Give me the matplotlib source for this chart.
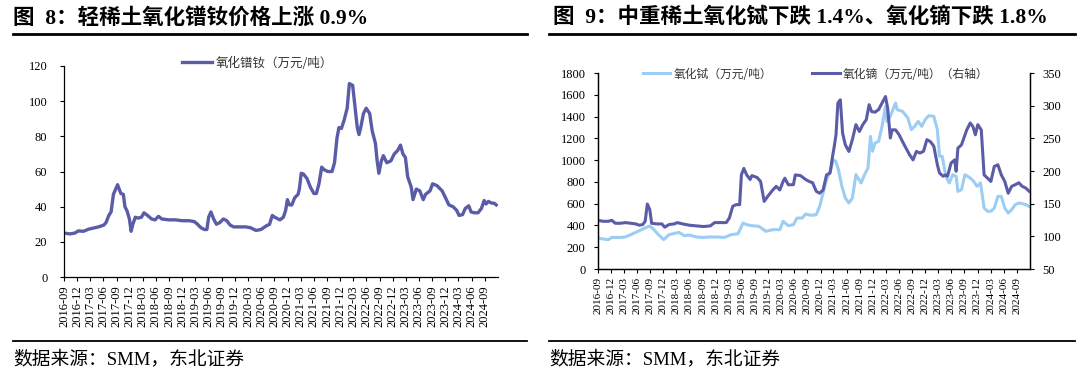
import matplotlib
matplotlib.use("Agg")
import matplotlib.pyplot as plt
import pandas as pd
from matplotlib.lines import Line2D

# ---------------- data ----------------
x_tick_labels = ["2016-09", "2016-12", "2017-03", "2017-06", "2017-09", "2017-12",
                 "2018-03", "2018-06", "2018-09", "2018-12", "2019-03", "2019-06",
                 "2019-09", "2019-12", "2020-03", "2020-06", "2020-09", "2020-12",
                 "2021-03", "2021-06", "2021-09", "2021-12", "2022-03", "2022-06",
                 "2022-09", "2022-12", "2023-03", "2023-06", "2023-09", "2023-12",
                 "2024-03", "2024-06", "2024-09"]

prnd_dates = ["2016-09-01", "2016-10-11", "2016-11-16", "2016-12-09", "2017-01-14", "2017-02-19",
              "2017-03-24", "2017-04-29", "2017-06-04", "2017-06-20", "2017-07-09", "2017-07-25",
              "2017-08-10", "2017-08-26", "2017-09-08", "2017-09-19", "2017-10-01", "2017-10-18",
              "2017-10-29", "2017-11-13", "2017-11-29", "2017-12-11", "2017-12-23", "2018-01-09",
              "2018-01-28", "2018-02-21", "2018-03-10", "2018-04-04", "2018-05-02", "2018-05-26",
              "2018-06-19", "2018-07-12", "2018-08-29", "2018-10-16", "2018-12-02", "2019-01-19",
              "2019-02-23", "2019-03-17", "2019-04-10", "2019-05-04", "2019-05-21", "2019-06-02",
              "2019-06-18", "2019-07-07", "2019-07-26", "2019-08-19", "2019-09-12", "2019-10-06",
              "2019-10-30", "2019-11-23", "2020-01-10", "2020-02-15", "2020-03-20", "2020-04-25",
              "2020-05-30", "2020-07-05", "2020-07-29", "2020-08-17", "2020-09-03", "2020-10-09",
              "2020-11-02", "2020-11-18", "2020-11-30", "2020-12-14", "2020-12-31", "2021-01-19",
              "2021-02-12", "2021-02-21", "2021-03-06", "2021-03-22", "2021-04-15", "2021-05-09",
              "2021-06-02", "2021-06-19", "2021-07-07", "2021-07-26", "2021-08-12", "2021-09-06",
              "2021-10-06", "2021-10-23", "2021-11-09", "2021-11-23", "2021-12-10", "2021-12-28",
              "2022-01-19", "2022-02-03", "2022-02-26", "2022-03-13", "2022-03-30", "2022-04-11",
              "2022-04-23", "2022-05-12", "2022-05-31", "2022-06-24", "2022-07-12", "2022-08-03",
              "2022-08-15", "2022-08-27", "2022-09-13", "2022-09-27", "2022-10-21", "2022-11-18",
              "2022-12-12", "2023-01-05", "2023-01-24", "2023-02-10", "2023-02-27", "2023-03-15",
              "2023-04-09", "2023-04-21", "2023-05-14", "2023-06-07", "2023-07-01", "2023-07-17",
              "2023-08-17", "2023-09-04", "2023-10-04", "2023-11-09", "2023-12-03", "2023-12-26",
              "2024-01-24", "2024-02-17", "2024-03-06", "2024-03-30", "2024-04-18", "2024-05-12",
              "2024-05-28", "2024-06-21", "2024-07-15", "2024-08-08", "2024-08-27", "2024-09-09",
              "2024-09-25", "2024-10-18", "2024-11-04", "2024-11-19"]
prnd_values = [25, 24.5, 25, 26.2, 26, 27.2,
               27.8, 28.5, 29.5, 31, 35, 37,
               47, 50, 52.5, 50, 47.5, 47,
               40, 37.5, 33, 26, 30, 34,
               33.5, 34, 36.5, 35, 33, 32.5,
               34.5, 33, 32.5, 32.5, 32, 32,
               31.5, 30, 28, 27, 27, 34,
               37, 33, 30, 31, 33, 32,
               29.5, 28.5, 28.5, 28.5, 28, 26.5,
               27, 29, 30, 35, 34, 32.5,
               34, 38, 44, 41, 41, 45,
               47, 50, 59, 58.5, 56, 51,
               47.5, 47.5, 53, 62.5, 61, 60,
               60, 65, 79, 85, 84.5, 89,
               96, 110, 109, 98, 85, 81,
               85, 93, 96, 93, 83, 76,
               66, 59, 66, 69, 65, 66,
               70, 72, 75, 70, 68, 57,
               51, 44, 50, 49, 44, 47,
               49, 53, 52, 49, 45, 41,
               40, 38, 35, 35.5, 39, 40.5,
               37, 36.5, 36.5, 39, 43.5, 41.5,
               43, 42, 42, 41]

tb_dates = ["2016-09-01", "2016-10-07", "2016-11-12", "2016-12-06", "2017-02-05", "2017-03-11",
            "2017-04-17", "2017-06-05", "2017-07-22", "2017-08-28", "2017-09-22", "2017-10-28",
            "2017-12-03", "2018-01-09", "2018-02-26", "2018-03-20", "2018-04-26", "2018-06-01",
            "2018-07-19", "2018-09-07", "2018-10-25", "2018-12-12", "2019-01-30", "2019-03-18",
            "2019-05-05", "2019-06-10", "2019-07-05", "2019-08-10", "2019-09-28", "2019-11-16",
            "2020-01-03", "2020-02-21", "2020-03-15", "2020-04-20", "2020-05-26", "2020-06-20",
            "2020-07-26", "2020-08-19", "2020-09-25", "2020-11-01", "2020-11-25", "2020-12-19",
            "2021-01-12", "2021-02-06", "2021-03-01", "2021-03-17", "2021-04-05", "2021-04-29",
            "2021-05-23", "2021-06-17", "2021-07-11", "2021-08-05", "2021-09-10", "2021-10-04",
            "2021-10-28", "2021-11-14", "2021-11-29", "2021-12-16", "2022-01-10", "2022-02-03",
            "2022-02-27", "2022-03-09", "2022-04-02", "2022-05-08", "2022-05-20", "2022-06-26",
            "2022-08-02", "2022-08-26", "2022-09-19", "2022-10-13", "2022-11-07", "2022-12-01",
            "2022-12-25", "2023-01-30", "2023-02-24", "2023-03-11", "2023-03-30", "2023-04-24",
            "2023-05-18", "2023-06-11", "2023-07-05", "2023-07-17", "2023-08-11", "2023-09-04",
            "2023-10-11", "2023-11-04", "2023-11-28", "2023-12-22", "2024-01-16", "2024-02-09",
            "2024-03-03", "2024-03-27", "2024-04-21", "2024-05-15", "2024-06-08", "2024-07-02",
            "2024-07-26", "2024-08-20", "2024-09-14", "2024-10-08", "2024-11-01", "2024-11-25"]
tb_values = [285, 275, 270, 290, 290, 294,
             315, 345, 375, 395, 367, 315,
             270, 315, 330, 336, 306, 312,
             294, 290, 294, 294, 290, 315,
             324, 422, 407, 398, 392, 346,
             361, 361, 438, 398, 407, 468,
             468, 505, 493, 499, 575, 698,
             820, 897, 1004, 989, 912, 759,
             652, 606, 652, 866, 790, 866,
             927, 1218, 1081, 1157, 1172, 1310,
             1494, 1356, 1402, 1524, 1463, 1448,
             1387, 1280, 1310, 1356, 1310, 1371,
             1408, 1402, 1280, 1035, 1035, 851,
             790, 866, 851, 713, 728, 866,
             836, 805, 759, 790, 560, 530,
             530, 560, 667, 667, 560, 514,
             545, 591, 606, 600, 591, 575]

dy_dates = ["2016-09-01", "2016-10-07", "2016-11-12", "2016-12-06", "2016-12-31", "2017-02-05",
            "2017-03-11", "2017-04-17", "2017-05-23", "2017-06-16", "2017-07-10", "2017-07-27",
            "2017-08-11", "2017-08-28", "2017-09-10", "2017-10-16", "2017-11-21", "2017-12-10",
            "2018-01-09", "2018-02-14", "2018-03-08", "2018-04-14", "2018-06-01", "2018-07-19",
            "2018-09-07", "2018-10-25", "2018-11-23", "2018-12-24", "2019-02-12", "2019-03-06",
            "2019-03-30", "2019-04-23", "2019-05-17", "2019-05-29", "2019-06-15", "2019-07-05",
            "2019-07-29", "2019-08-10", "2019-09-16", "2019-10-10", "2019-11-04", "2019-11-28",
            "2020-01-03", "2020-01-27", "2020-02-21", "2020-03-15", "2020-03-27", "2020-04-20",
            "2020-05-26", "2020-06-08", "2020-07-14", "2020-08-19", "2020-09-13", "2020-10-07",
            "2020-11-01", "2020-11-25", "2020-12-19", "2021-01-12", "2021-02-06", "2021-02-23",
            "2021-03-07", "2021-03-19", "2021-04-01", "2021-04-18", "2021-05-04", "2021-05-23",
            "2021-06-17", "2021-07-11", "2021-08-05", "2021-08-29", "2021-09-22", "2021-10-16",
            "2021-11-05", "2021-11-22", "2021-12-16", "2022-01-10", "2022-02-03", "2022-02-27",
            "2022-03-14", "2022-04-02", "2022-04-14", "2022-05-08", "2022-06-02", "2022-06-26",
            "2022-07-20", "2022-08-14", "2022-09-07", "2022-10-01", "2022-10-25", "2022-11-19",
            "2022-12-13", "2023-01-06", "2023-01-30", "2023-02-24", "2023-03-11", "2023-04-05",
            "2023-04-24", "2023-05-06", "2023-05-30", "2023-06-24", "2023-07-05", "2023-07-17",
            "2023-08-11", "2023-09-17", "2023-10-11", "2023-10-30", "2023-11-16", "2023-12-03",
            "2023-12-27", "2024-01-16", "2024-02-09", "2024-03-03", "2024-03-27", "2024-04-21",
            "2024-05-15", "2024-06-08", "2024-07-02", "2024-07-26", "2024-08-20", "2024-09-14",
            "2024-10-08", "2024-11-01", "2024-11-25"]
dy_values = [124.5, 123, 123, 124.5, 120, 120,
             121, 120, 119, 117, 118, 123,
             149.5, 141, 120, 119, 119, 114,
             118, 119, 121, 119, 117, 116,
             115, 116, 121, 121, 121, 128,
             146, 148.5, 148.5, 194, 204, 194,
             187, 193, 190, 184, 153.5, 161,
             171, 176.5, 171, 184, 189, 179,
             179, 194, 193, 187, 184, 182,
             169, 166, 171, 194, 197, 222.5,
             238, 255.5, 304, 309, 258, 240,
             230, 248, 271, 260.5, 271, 278.5,
             301.5, 291, 290, 294, 304, 314,
             296.5, 250.5, 263, 263, 255.5, 245,
             235, 225, 217, 230, 227.5, 230,
             248, 245, 238, 209.5, 197, 192,
             194, 192, 212, 217, 199.5, 235,
             240, 263, 273.5, 268, 255.5, 271,
             263, 194, 189, 184, 207, 209.5,
             194, 184, 166, 176.5, 179, 182,
             176.5, 174, 169]

left_title = "图  8：轻稀土氧化镨钕价格上涨 0.9%"
right_title = "图  9：中重稀土氧化铽下跌 1.4%、氧化镝下跌 1.8%"
source_text = "数据来源：SMM，东北证券"
prnd_label = "氧化镨钕（万元/吨）"
tb_label = "氧化铽（万元/吨）"
dy_label = "氧化镝（万元/吨）（右轴）"

# ---------------- style ----------------
DARK = "#5a5ca8"
LIGHT = "#9ccdf2"
SERIF = ["Liberation Serif", "Noto Sans CJK SC"]
CJK = ["Noto Sans CJK SC", "DejaVu Sans"]
plt.rcParams["font.family"] = SERIF

W, H = 1080, 381
fig = plt.figure(figsize=(W / 100, H / 100), dpi=100)


def rect(l, r, t, b):
    return [l / W, 1 - b / H, (r - l) / W, (b - t) / H]


def fx(x):
    return x / W


def fy(y):
    return 1 - y / H


ticks = pd.to_datetime(x_tick_labels)
x0, x1 = pd.Timestamp("2016-09-01"), pd.Timestamp("2024-12-01")

# ---------------- left chart ----------------
ax1 = fig.add_axes(rect(64, 498, 66, 277))
ax1.plot(pd.to_datetime(prnd_dates), prnd_values, color=DARK, lw=2.4, solid_joinstyle="round")
ax1.set_xlim(x0, x1)
ax1.set_ylim(0, 120)
ax1.set_yticks(range(0, 121, 20))
ax1.set_xticks(ticks)
ax1.set_xticklabels(x_tick_labels, rotation=90, fontsize=9)
for s in ("top", "right"):
    ax1.spines[s].set_visible(False)
for s in ("left", "bottom"):
    ax1.spines[s].set_linewidth(0.9)
ax1.tick_params(axis="y", direction="out", length=3, width=0.8, pad=9, labelsize=9)
ax1.tick_params(axis="x", direction="out", length=3, width=0.8, pad=3)
ax1.legend([Line2D([], [], color=DARK, lw=2.4)], [prnd_label],
           loc="center left", bbox_to_anchor=(fx(182), fy(63)), bbox_transform=fig.transFigure,
           frameon=False, borderpad=0, borderaxespad=0, handlelength=2.4, handletextpad=0.3,
           prop={"family": CJK, "size": 9}, labelcolor="#333333")

# ---------------- right chart ----------------
ax2 = fig.add_axes(rect(598, 1030, 73, 269))
ax2.plot(pd.to_datetime(tb_dates), tb_values, color=LIGHT, lw=2.2, solid_joinstyle="round")
ax2.set_xlim(x0, x1)
ax2.set_ylim(0, 1800)
ax2.set_yticks(range(0, 1801, 200))
ax2.set_xticks(ticks)
ax2.set_xticklabels(x_tick_labels, rotation=90, fontsize=8)
ax3 = ax2.twinx()
ax3.plot(pd.to_datetime(dy_dates), dy_values, color=DARK, lw=2.2, solid_joinstyle="round")
ax3.set_ylim(50, 350)
ax3.set_yticks(range(50, 351, 50))
for a in (ax2, ax3):
    a.spines["top"].set_visible(False)
    for s in ("left", "bottom", "right"):
        a.spines[s].set_linewidth(0.9)
ax2.tick_params(axis="y", direction="out", length=3, width=0.8, pad=6, labelsize=9)
ax3.tick_params(axis="y", direction="out", length=3, width=0.8, pad=6, labelsize=9)
ax2.tick_params(axis="x", direction="out", length=3, width=0.8, pad=3)
ax3.legend([Line2D([], [], color=LIGHT, lw=2.2), Line2D([], [], color=DARK, lw=2.2)],
           [tb_label, dy_label], ncol=2,
           loc="center left", bbox_to_anchor=(fx(643), fy(74)), bbox_transform=fig.transFigure,
           frameon=False, borderpad=0, borderaxespad=0, handlelength=2.3, handletextpad=0.3,
           columnspacing=3.4, prop={"family": CJK, "size": 8.5}, labelcolor="#333333")

# ---------------- titles, rules, sources ----------------
fig.text(fx(13), fy(18), left_title, fontsize=15.5, fontweight="bold", family=SERIF, va="center")
fig.text(fx(553), fy(18), right_title, fontsize=15.5, fontweight="bold", family=SERIF, va="center")
for xa, xb in ((13, 527), (549, 1075)):
    fig.add_artist(Line2D([fx(xa), fx(xb)], [fy(33.5)] * 2, color="black", lw=2.0))
    fig.add_artist(Line2D([fx(xa), fx(xb)], [fy(341)] * 2, color="black", lw=1.3))
fig.text(fx(13), fy(359), source_text, fontsize=13.5, family=SERIF, va="center")
fig.text(fx(549), fy(359), source_text, fontsize=13.5, family=SERIF, va="center")

fig.savefig("out.png", dpi=100)
